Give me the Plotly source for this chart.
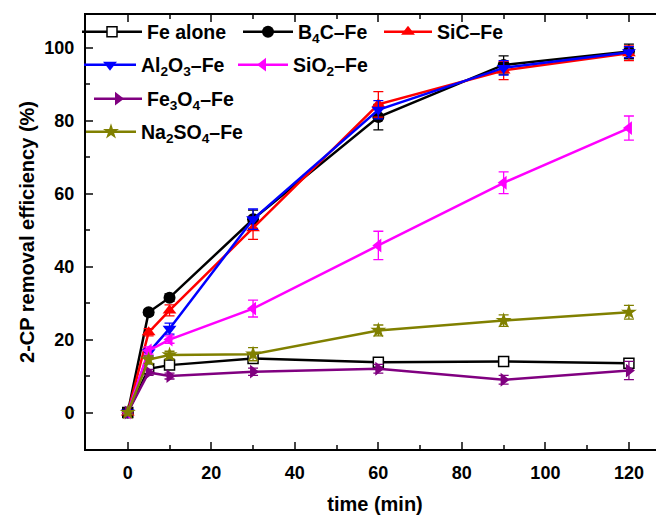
import plotly.graph_objects as go

time_min = [0, 5, 10, 30, 60, 90, 120]

names = ["Fe alone", "B<sub>4</sub>C–Fe", "SiC–Fe", "Al<sub>2</sub>O<sub>3</sub>–Fe",
         "SiO<sub>2</sub>–Fe", "Fe<sub>3</sub>O<sub>4</sub>–Fe", "Na<sub>2</sub>SO<sub>4</sub>–Fe"]

fe_alone = [0, 12.0, 13.0, 14.8, 13.8, 14.0, 13.5]
fe_alone_err = [0.5, 0.5, 0.6, 1.0, 0.8, 0.8, 1.0]
b4c_fe = [0, 27.5, 31.5, 53.0, 81.0, 95.3, 99.0]
b4c_fe_err = [0.5, 0.8, 1.0, 2.5, 3.5, 2.5, 2.0]
sic_fe = [0, 22.0, 28.0, 50.5, 84.5, 93.8, 98.5]
sic_fe_err = [0.5, 1.0, 1.5, 3.0, 3.5, 2.5, 2.0]
al2o3_fe = [0, 16.5, 23.0, 53.0, 83.0, 94.5, 98.8]
al2o3_fe_err = [0.5, 1.0, 1.5, 2.8, 2.5, 2.0, 1.5]
sio2_fe = [0, 17.0, 20.0, 28.5, 45.8, 63.0, 78.0]
sio2_fe_err = [0.5, 1.0, 1.0, 2.3, 3.9, 3.0, 3.3]
fe3o4_fe = [0, 11.0, 10.0, 11.2, 12.0, 9.0, 11.5]
fe3o4_fe_err = [0.5, 0.8, 0.8, 1.0, 1.2, 1.2, 2.5]
na2so4_fe = [0, 14.5, 15.8, 16.0, 22.5, 25.2, 27.5]
na2so4_fe_err = [0.5, 1.0, 1.0, 1.8, 1.5, 1.6, 1.9]

x_ticks = [0, 20, 40, 60, 80, 100, 120]
y_ticks = [0, 20, 40, 60, 80, 100]

series = [fe_alone, b4c_fe, sic_fe, al2o3_fe, sio2_fe, fe3o4_fe, na2so4_fe]
errors = [fe_alone_err, b4c_fe_err, sic_fe_err, al2o3_fe_err, sio2_fe_err, fe3o4_fe_err, na2so4_fe_err]
colors = ["#000000", "#000000", "#FF0000", "#0000FF", "#FF00FF", "#800080", "#808000"]
symbols = ["square-open", "circle", "triangle-up", "triangle-down", "triangle-left", "triangle-right", "star"]

# page body has an 8px margin; figure coordinates below are relative to the figure
OFF = 8
# legend entry layout (px in the 664x515 window): left x, center y, symbol width
leg_pos = [(77, 32, 60), (238, 32, 50), (379, 32, 48), (79, 65, 52),
           (233, 65, 50), (89, 99, 48), (81, 132, 50)]

W, H = 664 - OFF, 515 - OFF
ML, MR, MT, MB = 86 - OFF, 0, 15 - OFF, 66
PW, PH = W - ML - MR, H - MT - MB
FAM = "Liberation Sans, Arial, sans-serif"
LEGFONT = dict(family=FAM, size=19.5, color="black", weight="bold")
TITLEFONT = dict(family=FAM, size=20, color="black", weight="bold")
TICKFONT = dict(family=FAM, size=18, color="black", weight="bold")

fig = go.Figure()
for i, (nm, ys, er, c, s) in enumerate(zip(names, series, errors, colors, symbols)):
    leg = "legend" if i == 0 else f"legend{i+1}"
    if s == "square-open":
        mk = dict(symbol="square", size=10, color="#FFFFFF", line=dict(color=c, width=1.5))
    else:
        mk = dict(symbol=s, size=12, color=c, line=dict(color=c, width=0))
    fig.add_trace(go.Scatter(
        x=time_min, y=ys, name=nm, mode="lines+markers",
        line=dict(color=c, width=2.5),
        marker=mk,
        error_y=dict(type="data", array=er, visible=True, color=c, thickness=1.3, width=5),
        legend=leg, showlegend=True,
    ))

layout_legends = {}
for i, (lx, ly, iw) in enumerate(leg_pos):
    key = "legend" if i == 0 else f"legend{i+1}"
    layout_legends[key] = dict(
        x=(lx - OFF - ML) / PW, y=(MT + PH - (ly - OFF)) / PH,
        xanchor="left", yanchor="middle", bgcolor="rgba(0,0,0,0)",
        borderwidth=0, font=LEGFONT, itemwidth=iw, orientation="h",
    )

fig.update_layout(
    width=W, height=H, showlegend=True,
    margin=dict(l=ML, r=MR, t=MT, b=MB, autoexpand=False),
    plot_bgcolor="white", paper_bgcolor="white",
    font=TICKFONT,
    **layout_legends,
)
fig.update_xaxes(
    range=[-10, 128.4], tickvals=x_ticks, ticks="inside", ticklen=7, tickwidth=2,
    showline=True, linewidth=2, linecolor="black", mirror="allticks",
    showgrid=False, zeroline=False, tickfont=TICKFONT, ticklabelstandoff=6,
    minor=dict(ticks="inside", ticklen=4, tickwidth=2, dtick=10, tick0=0, showgrid=False),
    title=dict(text="time (min)", font=TITLEFONT, standoff=16),
)
fig.update_yaxes(
    range=[-10, 109], tickvals=y_ticks, ticks="inside", ticklen=7, tickwidth=2,
    showline=True, linewidth=2, linecolor="black", mirror=False,
    showgrid=False, zeroline=False, tickfont=TICKFONT, ticklabelstandoff=6,
    minor=dict(ticks="inside", ticklen=4, tickwidth=2, dtick=10, tick0=0, showgrid=False),
    title=dict(text="2-CP removal efficiency (%)", font=TITLEFONT, standoff=4),
)

fig.write_html("out.html")
